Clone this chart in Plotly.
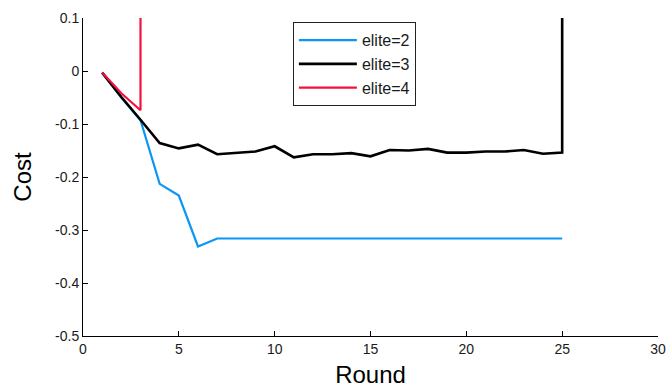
import plotly.graph_objects as go

rounds = list(range(1, 26))
elite2 = [-0.003, -0.050, -0.093, -0.213, -0.235, -0.331, -0.316] + [-0.316] * 18
elite3 = [-0.003, -0.049, -0.092, -0.136, -0.146, -0.139, -0.157, -0.155, -0.152, -0.142,
          -0.163, -0.157, -0.157, -0.155, -0.161, -0.149, -0.150, -0.147, -0.154, -0.154,
          -0.152, -0.152, -0.149, -0.156, -0.154]
elite3_end = 0.3
elite4_x = [1, 2, 3, 3]
elite4 = [-0.003, -0.042, -0.074, 0.3]

xticks = [0, 5, 10, 15, 20, 25, 30]
yticks = [0.1, 0, -0.1, -0.2, -0.3, -0.4, -0.5]
ytick_text = ["0.1", "0", "-0.1", "-0.2", "-0.3", "-0.4", "-0.5"]

fig = go.Figure()
fig.add_trace(go.Scatter(x=rounds, y=elite2, mode="lines", name="elite=2",
                         line=dict(color="#0a96f5", width=2.2), legendgroup="a"))
fig.add_trace(go.Scatter(x=rounds + [25], y=elite3 + [elite3_end], mode="lines", name="elite=3",
                         line=dict(color="#000000", width=2.6), legendgroup="b"))
fig.add_trace(go.Scatter(x=elite4_x, y=elite4, mode="lines", name="elite=4",
                         line=dict(color="#f5103c", width=2.2), legendgroup="c"))

fig.update_layout(
    width=668, height=392,
    margin=dict(l=83, r=10, t=18, b=56, autoexpand=False),
    paper_bgcolor="white", plot_bgcolor="white",
    font=dict(family="Liberation Sans, Arial, sans-serif", size=14, color="#1a1a1a"),
    showlegend=True,
    legend=dict(x=0.365, y=0.987, xanchor="left", yanchor="top",
                bgcolor="white", bordercolor="#222222", borderwidth=1,
                font=dict(size=16, color="#1a1a1a"), tracegroupgap=0,
                itemwidth=58),
    xaxis=dict(range=[0, 30], tickvals=xticks, ticks="inside", ticklen=5,
               tickcolor="black", showline=True, linecolor="black", linewidth=1,
               showgrid=False, zeroline=False, mirror=False, automargin=False,
               title=dict(text="Round", font=dict(size=24, color="black"), standoff=10)),
    yaxis=dict(range=[-0.5, 0.1], tickvals=yticks, ticktext=ytick_text, ticks="inside",
               ticklen=5, tickcolor="black", showline=True, linecolor="black", linewidth=1,
               showgrid=False, zeroline=False, mirror=False, automargin=False,
               title=dict(text="Cost", font=dict(size=24, color="black"), standoff=16)),
)

fig.write_html("out.html")
